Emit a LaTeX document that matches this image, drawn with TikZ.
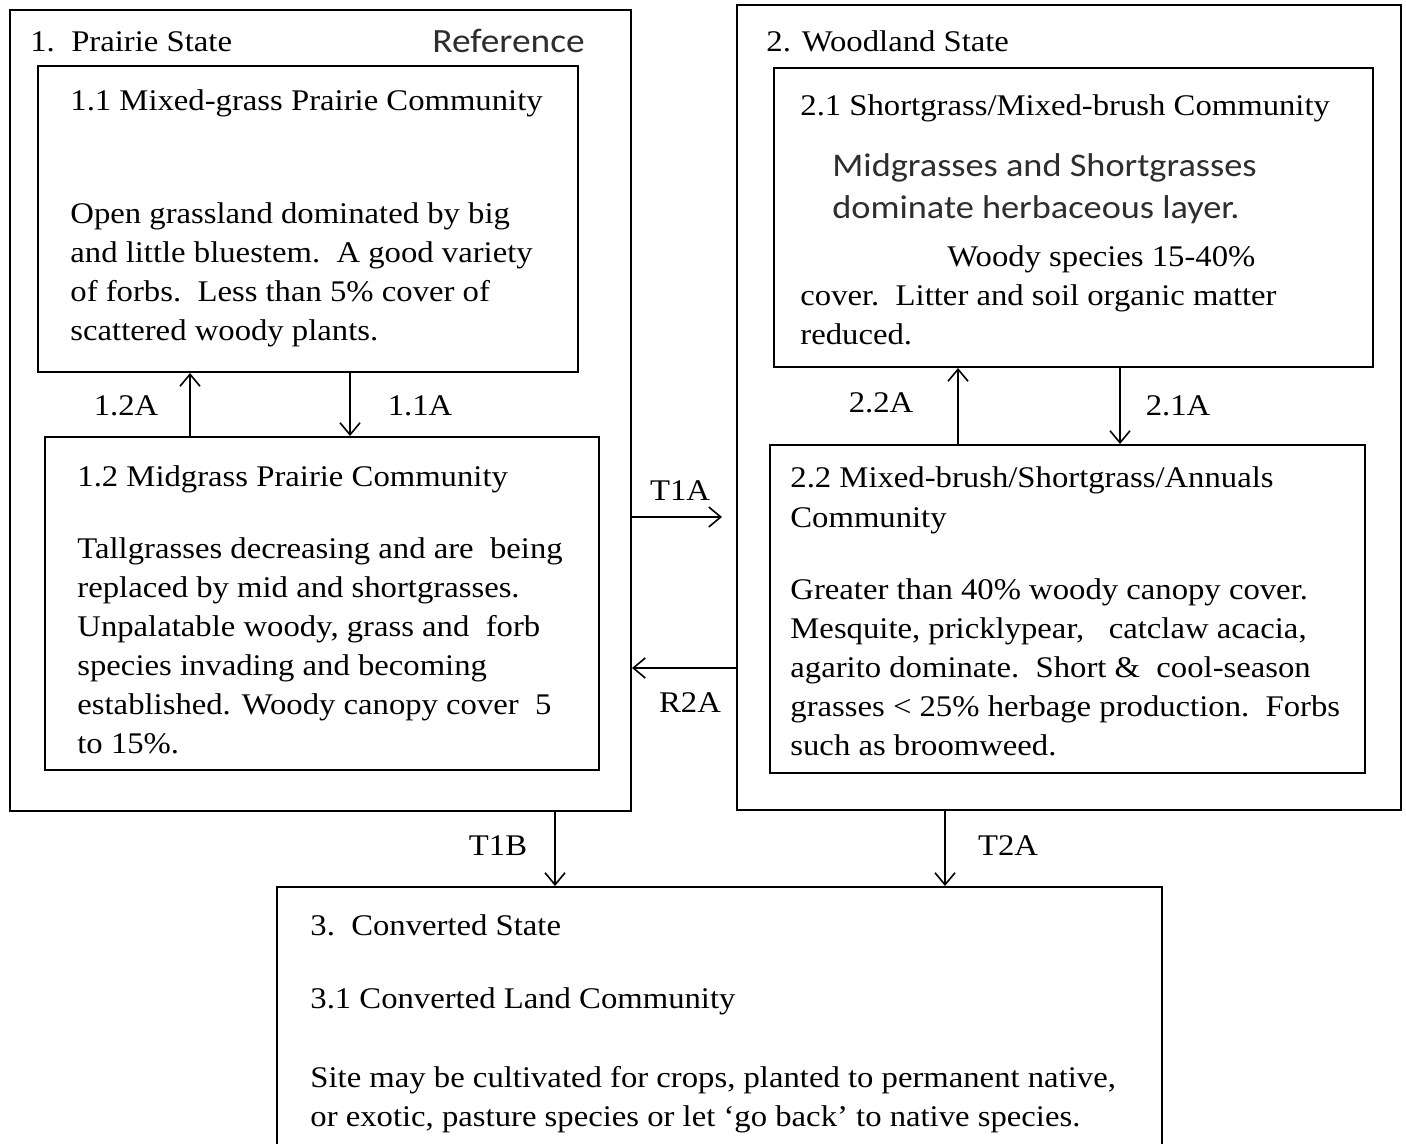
\documentclass[tikz,border=0pt]{standalone}
\usepackage{fontspec}
\setmainfont[FakeStretch=1.09]{Liberation Serif}
\newfontfamily\calibri[FakeStretch=1.1]{Carlito}
\usetikzlibrary{arrows.meta,fit}

\begin{document}
\begin{tikzpicture}[x=0.5pt,y=-0.5pt,
  statebox/.style={draw,line width=1pt,inner sep=0pt},
  txt/.style={inner sep=0pt,align=left,font=\fontsize{15}{19.5}\selectfont},
  sanstxt/.style={inner sep=0pt,align=left,text=black!82,font=\calibri\fontsize{16.5}{21}\selectfont},
  trans/.style={line width=0.8pt,-{Straight Barb[length=6pt,width=10pt]}},
  lbl/.style={inner sep=0pt,font=\fontsize{15}{19.5}\selectfont}]
\useasboundingbox (0,0) rectangle (1406,1144);
\fill[white] (0,0) rectangle (1406,1144);
% state boxes
\node [statebox,fit={(10,10) (631,811)}] (prairie) {};
\node [statebox,fit={(737,5) (1401,810)}] (woodland) {};
\node [statebox,fit={(277,887) (1162,1160)}] (converted) {};
% community boxes
\node [statebox,fit={(38,66) (578,372)}] (mixgrass) {};
\node [statebox,fit={(45,437) (599,770)}] (midgrass) {};
\node [statebox,fit={(774,68) (1373,367)}] (shortgrass) {};
\node [statebox,fit={(770,445) (1365,773)}] (mixbrush) {};
% texts
\node [txt,anchor=base west] (prairie title) at (30,52) {1.\ \ Prairie State};
\node [sanstxt,anchor=base west,font=\calibri\fontsize{17}{21}\selectfont] (ref) at (432,53) {Reference};
\node [txt,anchor=base west] (mixgrass title) at (70,111) {1.1 Mixed-grass Prairie Community};
\node [txt,anchor=north west] (mixgrass text) at (70,202) {Open grassland dominated by big\\and little bluestem.\ \ A good variety\\of forbs.\ \ Less than 5\% cover of\\scattered woody plants.};
\node [txt,anchor=base west] (midgrass title) at (77,486) {1.2 Midgrass Prairie Community};
\node [txt,anchor=north west] (midgrass text) at (77,537) {Tallgrasses decreasing and are\ \ being\\replaced by mid and shortgrasses.\\Unpalatable woody, grass and\ \ forb\\species invading and becoming\\established. Woody canopy cover\ \ 5\\to 15\%.};
\node [txt,anchor=base west] (woodland title) at (766,52) {2. Woodland State};
\node [txt,anchor=base west] (shortgrass title) at (800,116) {2.1 Shortgrass/Mixed-brush Community};
\node [sanstxt,anchor=north west] (shortgrass sans) at (832,153) {Midgrasses and Shortgrasses\\dominate herbaceous layer.};
\node [txt,anchor=north west] (shortgrass text) at (800,245) {\hspace*{73.5pt}Woody species 15-40\%\\cover.\ \ Litter and soil organic matter\\reduced.};
\node [txt,anchor=north west] (mixbrush title) at (790,466) {2.2 Mixed-brush/Shortgrass/Annuals\\[0.5pt]Community};
\node [txt,anchor=north west] (mixbrush text) at (790,578) {Greater than 40\% woody canopy cover.\\Mesquite, pricklypear,\ \ \ catclaw acacia,\\agarito dominate.\ \ Short \&\ \ cool-season\\grasses < 25\% herbage production.\ \ Forbs\\such as broomweed.};
\node [txt,anchor=base west] (converted title) at (310,935) {3.\ \ Converted State};
\node [txt,anchor=base west] (convland title) at (310,1008) {3.1 Converted Land Community};
\node [txt,anchor=north west] (convland text) at (310,1066) {Site may be cultivated for crops, planted to permanent native,\\or exotic, pasture species or let `go back' to native species.};
% transitions
\coordinate (t1a end) at (722,517);
\draw [trans] (190,0 |- midgrass.north) -- (190,0 |- mixgrass.south);
\draw [trans] (350,0 |- mixgrass.south) -- (350,0 |- midgrass.north);
\draw [trans] (958,0 |- mixbrush.north) -- (958,0 |- shortgrass.south);
\draw [trans] (1120,0 |- shortgrass.south) -- (1120,0 |- mixbrush.north);
\draw [trans] (prairie.east |- t1a end) -- (t1a end);
\draw [trans] (woodland.west |- 0,668) -- (prairie.east |- 0,668);
\draw [trans] (555,0 |- prairie.south) -- (555,0 |- converted.north);
\draw [trans] (945,0 |- woodland.south) -- (945,0 |- converted.north);
\node [lbl] (l12a) at (126,406) {1.2A};
\node [lbl] (l11a) at (420,406) {1.1A};
\node [lbl] (l22a) at (881,403) {2.2A};
\node [lbl] (l21a) at (1178,406) {2.1A};
\node [lbl] (lt1a) at (680,491) {T1A};
\node [lbl] (lr2a) at (690,703) {R2A};
\node [lbl] (lt1b) at (498,846) {T1B};
\node [lbl] (lt2a) at (1008,846) {T2A};
\end{tikzpicture}
\end{document}
